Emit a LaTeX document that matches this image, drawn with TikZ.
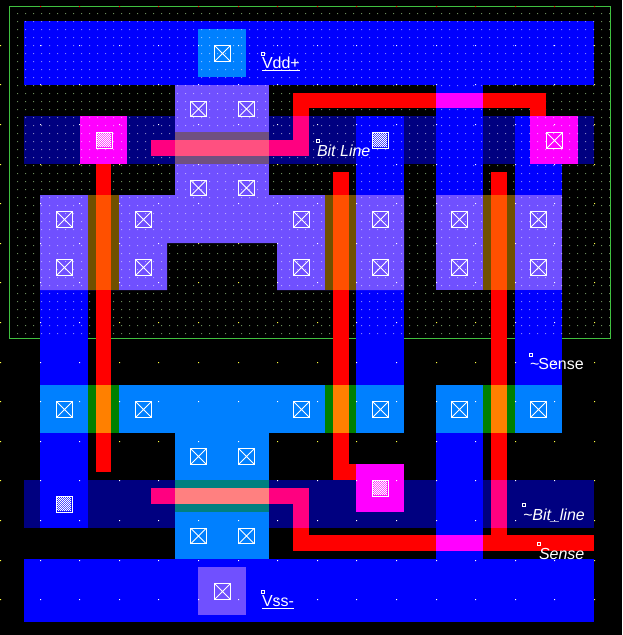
\documentclass[tikz,border=0pt]{standalone}
\usepackage{fontspec}
\setmainfont{Liberation Sans}
\definecolor{navy}{HTML}{000080}
\definecolor{mtl}{HTML}{0000FF}
\definecolor{pdf}{HTML}{7050FF}
\definecolor{ndf}{HTML}{0080FF}
\definecolor{mag}{HTML}{FF00FF}
\definecolor{pnk}{HTML}{FF0080}
\definecolor{brn}{HTML}{705000}
\definecolor{org}{HTML}{FF5000}
\definecolor{gry}{HTML}{705080}
\definecolor{lpk}{HTML}{FF5080}
\definecolor{grn}{HTML}{008000}
\definecolor{or2}{HTML}{FF8000}
\definecolor{teal2}{HTML}{008080}
\definecolor{sal}{HTML}{FF8080}
\definecolor{fdot}{HTML}{6A8A5A}
\definecolor{cdot}{HTML}{FFFF40}
\definecolor{bnd}{HTML}{40C040}
\tikzset{
  x=1pt,y=-1pt,
  contactline/.style={draw=white,line width=0.8pt},
  lbl/.style={text=white,font=\fontsize{16}{16}\selectfont,anchor=base west,inner sep=0pt,outer sep=0pt},
  anchorbox/.style={draw=white,line width=1pt,fill=none},
}
% plain contact: centre x, centre y
\newcommand{\ctc}[2]{%
  \draw[contactline,line width=1.2pt] (#1-7.8,#2-7.8) rectangle (#1+7.8,#2+7.8);
  \draw[contactline] (#1-7.8,#2-7.8) -- (#1+7.8,#2+7.8) (#1-7.8,#2+7.8) -- (#1+7.8,#2-7.8);
}
% textured contact
\newcommand{\ctx}[2]{%
  \draw[contactline,line width=1.2pt] (#1-7.8,#2-7.8) rectangle (#1+7.8,#2+7.8);
  \fill[white] \foreach \pi in {-7,-5,...,5} { \foreach \pj in {-7,-5,...,5} {
      (#1+\pi-0.5,#2+\pj-0.5) rectangle +(1,1) (#1+\pi+0.5,#2+\pj+0.5) rectangle +(1,1) } };
}
\newcommand{\lblmark}[2]{\draw[anchorbox] (#1-1.5,#2-1.5) rectangle (#1+1.5,#2+1.5);}
\newcommand{\layerclip}{%
  \clip (24,21) rectangle (594,85) (24,116) rectangle (594,164)
        (24,480) rectangle (594,528) (24,559) rectangle (594,622)
        (175,85) rectangle (269,195) (40,195) rectangle (404,243)
        (40,243) rectangle (167,290) (277,243) rectangle (404,290)
        (436,195) rectangle (562,290) (40,290) rectangle (88,385)
        (356,290) rectangle (404,385) (515,290) rectangle (562,385)
        (436,85) rectangle (483,195) (356,164) rectangle (404,195)
        (515,164) rectangle (562,195) (40,385) rectangle (404,433)
        (436,385) rectangle (562,433) (175,433) rectangle (269,559)
        (40,433) rectangle (88,480) (436,433) rectangle (483,559);
}
\begin{document}
\begin{tikzpicture}
\useasboundingbox (0,0) rectangle (622,635);
\fill[black] (0,0) rectangle (622,635);
% background grid on black
\fill[fdot] \foreach \i in {0,...,74} { \foreach \j in {0,...,40} {
   ({17+8*\i},{13+8*\j}) rectangle +(1,1) } };
\fill[cdot] \foreach \i in {0,...,15} { \foreach \j in {1,...,15} {
   ({int(0.5+39.6*\i)},{int(5.7+39.6*\j)}) rectangle +(1,1) } };
% well boundary
\draw[bnd,line width=1pt] (9.5,6.5) rectangle (610.5,338.5);
\fill[red] \foreach \i in {1,...,15} { ({int(0.5+39.6*\i)},6) rectangle +(1,1) };
% implant bands
\fill[navy] (24,116) rectangle (594,164);
\fill[navy] (24,480) rectangle (594,528);
% metal
\fill[mtl] (24,21) rectangle (594,85);
\fill[mtl] (24,559) rectangle (594,622);
\fill[mtl] (40,290) rectangle (88,385);
\fill[mtl] (40,433) rectangle (88,528);
\fill[mtl] (356,116) rectangle (404,195);
\fill[mtl] (356,290) rectangle (404,385);
\fill[mtl] (436,85) rectangle (483,195);
\fill[mtl] (436,433) rectangle (483,559);
\fill[mtl] (515,116) rectangle (562,195);
\fill[mtl] (515,290) rectangle (562,385);
% p diffusion
\fill[pdf] (175,85) rectangle (269,195);
\fill[pdf] (40,195) -- (404,195) -- (404,290) -- (277,290) -- (277,243) -- (167,243) -- (167,290) -- (40,290) -- cycle;
\fill[pdf] (436,195) rectangle (562,290);
\fill[pdf] (198,567) rectangle (246,615);
% n diffusion
\fill[ndf] (198,29) rectangle (246,77);
\fill[ndf] (40,385) rectangle (404,433);
\fill[ndf] (436,385) rectangle (562,433);
\fill[ndf] (175,433) rectangle (269,559);
% contact pads
\fill[mag] (80,116) rectangle (127,164);
\fill[mag] (530,116) rectangle (578,164);
\fill[mag] (356,464) rectangle (404,512);
% grid showing on layers
\begin{scope}
\layerclip
\fill[white,opacity=.5] \foreach \i in {0,...,74} { \foreach \j in {0,...,40} {
   ({17+8*\i},{13+8*\j}) rectangle +(1,1) } };
\fill[white] \foreach \i in {0,...,15} { \foreach \j in {1,...,15} {
   ({int(0.5+39.6*\i)},{int(5.7+39.6*\j)}) rectangle +(1,1) } };
\end{scope}
% gates upper
\fill[brn] (88,195) rectangle (119,290);
\fill[brn] (325,195) rectangle (356,290);
\fill[brn] (483,195) rectangle (515,290);
\fill[gry] (175,132) rectangle (269,164);
% gates lower
\fill[grn] (88,385) rectangle (119,433);
\fill[grn] (325,385) rectangle (356,433);
\fill[grn] (483,385) rectangle (515,433);
\fill[teal2] (175,480) rectangle (269,512);
% poly
\fill[red] (96,164) rectangle (111,472);
\fill[red] (333,172) rectangle (349,480);
\fill[red] (333,464) rectangle (356,480);
\fill[red] (491,172) rectangle (507,551);
\fill[red] (293,93) rectangle (546,108);
\fill[red] (293,93) rectangle (309,156);
\fill[red] (530,93) rectangle (546,116);
\fill[red] (151,488) rectangle (309,504);
\fill[red] (293,488) rectangle (309,551);
\fill[red] (293,535) rectangle (594,551);
% poly over implant
\fill[pnk] (151,140) rectangle (309,156);
\fill[pnk] (293,116) rectangle (309,156);
\fill[pnk] (151,488) rectangle (309,504);
\fill[pnk] (293,488) rectangle (309,528);
\fill[pnk] (491,480) rectangle (507,528);
% poly over gates
\fill[org] (96,195) rectangle (111,290);
\fill[org] (333,195) rectangle (349,290);
\fill[org] (491,195) rectangle (507,290);
\fill[lpk] (175,140) rectangle (269,156);
\fill[or2] (96,385) rectangle (111,433);
\fill[or2] (333,385) rectangle (349,433);
\fill[or2] (491,385) rectangle (507,433);
\fill[sal] (175,488) rectangle (269,504);
% poly over metal
\fill[mag] (436,93) rectangle (483,108);
\fill[mag] (436,535) rectangle (483,551);
% contacts
\foreach \cx in {198.5,246.5} {
  \foreach \cy in {109,188} { \ctc{\cx}{\cy} }
  \foreach \cy in {456.5,536} { \ctc{\cx}{\cy} }
}
\foreach \cx in {64.5,143.5,301.5,380.5,459.5,538.5} {
  \foreach \cy in {219.5,267.5,409.5} { \ctc{\cx}{\cy} }
}
\ctc{222.5}{53.5}
\ctc{222.5}{591.5}
\ctc{554.5}{140.5}
\ctx{104.5}{140.5}
\ctx{380.5}{140.5}
\ctx{64.5}{504.5}
\ctx{380.5}{488.5}
% labels
\lblmark{262.5}{53.5}\lblmark{262.5}{591.5}
\lblmark{317.5}{140.5}\lblmark{530.5}{354.5}
\lblmark{523.5}{504.5}\lblmark{538.5}{543.5}
\node[lbl] (vdd) at (262,68) {Vdd+};
\draw[white,line width=1pt] (262,70.5) -- (300,70.5);
\node[lbl] (vss) at (262,606) {Vss-};
\draw[white,line width=1pt] (262,608.5) -- (294,608.5);
\node[lbl,font=\fontsize{16}{16}\selectfont\itshape] (bit) at (317,156) {Bit Line};
\node[lbl] (nsense) at (530,369) {\char"7E\kern-1pt Sense};
\node[lbl,font=\fontsize{16}{16}\selectfont\itshape] (nbit) at (523,520) {\char"7E Bit\_line};
\node[lbl,font=\fontsize{16}{16}\selectfont\itshape] (sense) at (539,559) {Sense};
\end{tikzpicture}
\end{document}
